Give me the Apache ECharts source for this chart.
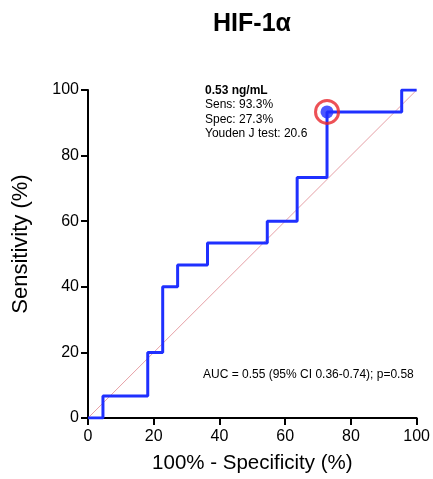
<!DOCTYPE html>
<html>
<head>
<meta charset="utf-8">
<script src="https://cdn.jsdelivr.net/npm/echarts@6/dist/echarts.min.js"></script>
<style>
  html, body { margin: 0; padding: 0; background: #fff; }
  #app { width: 433px; height: 479px; }
</style>
</head>
<body>
<div id="app"></div>
<script>
// ROC step curve: 100% - specificity (x) vs sensitivity (y)
const rocX = [0, 4.55, 4.55, 18.18, 18.18, 22.73, 22.73, 27.27, 27.27, 36.36, 36.36, 54.55, 54.55, 63.64, 63.64, 72.73, 72.73, 95.45, 95.45, 100];
const rocY = [0, 0, 6.67, 6.67, 20, 20, 40, 40, 46.67, 46.67, 53.33, 53.33, 60, 60, 73.33, 73.33, 93.33, 93.33, 100, 100];
const refLine = [[0, 0], [100, 100]];
const cutoff = [72.73, 93.33];
const axisTicks = [0, 20, 40, 60, 80, 100];
const noteLines = ['0.53 ng/mL', 'Sens: 93.3%', 'Spec: 27.3%', 'Youden J test: 20.6'];
const aucText = 'AUC = 0.55 (95% CI 0.36-0.74); p=0.58';

const font = 'Liberation Sans, Arial, Helvetica, sans-serif';
const chart = echarts.init(document.getElementById('app'));

const axisCommon = {
  type: 'value',
  min: axisTicks[0],
  max: axisTicks[axisTicks.length - 1],
  interval: 20,
  nameLocation: 'middle',
  axisLine: { show: true, onZero: false, lineStyle: { color: '#000', width: 2 } },
  axisTick: { show: true, inside: false, length: 7, lineStyle: { color: '#000', width: 2 } },
  axisLabel: { fontFamily: font, fontSize: 16, color: '#000' },
  splitLine: { show: false }
};

chart.setOption({
  animation: false,
  title: {
    text: 'HIF-1α',
    left: 247,
    textAlign: 'center',
    top: 7,
    textStyle: { fontFamily: font, fontSize: 25, fontWeight: 'bold', color: '#000' }
  },
  grid: { left: 88, right: 16, top: 90, bottom: 61 },
  xAxis: Object.assign({}, axisCommon, {
    name: '100% - Specificity (%)',
    nameGap: 35,
    nameTextStyle: { fontFamily: font, fontSize: 20.5, color: '#000' },
    axisLabel: Object.assign({}, axisCommon.axisLabel, { margin: 11 })
  }),
  yAxis: Object.assign({}, axisCommon, {
    name: 'Sensitivity (%)',
    nameGap: 56,
    nameTextStyle: { fontFamily: font, fontSize: 22, color: '#000', padding: [0, 0, 0, 20] },
    axisLabel: Object.assign({}, axisCommon.axisLabel, { margin: 9 })
  }),
  graphic: [
    {
      type: 'text', left: 205, top: 83,
      style: {
        text: noteLines.map((t, i) => i === 0 ? '{b|' + t + '}' : t).join('\n'),
        fontFamily: font, fontSize: 12, lineHeight: 14.5, fill: '#000',
        rich: { b: { fontWeight: 'bold', fontFamily: font, fontSize: 12, lineHeight: 14.5 } }
      }
    },
    {
      type: 'text', left: 203, top: 369,
      style: { text: aucText, fontFamily: font, fontSize: 12, fill: '#000' }
    }
  ],
  series: [
    {
      type: 'line',
      data: refLine,
      symbol: 'none',
      lineStyle: { color: '#e6a0a6', width: 1 },
      silent: true,
      z: 1
    },
    {
      type: 'line',
      data: rocX.map((x, i) => [x, rocY[i]]),
      symbol: 'none',
      lineStyle: { color: '#1f30ff', width: 3 },
      z: 2
    },
    {
      type: 'scatter',
      data: [cutoff],
      symbolSize: 13,
      itemStyle: { color: '#1f30ff' },
      z: 3
    },
    {
      type: 'scatter',
      data: [cutoff],
      symbolSize: 23,
      itemStyle: { color: 'rgba(0,0,0,0)', borderColor: '#e8262c', borderWidth: 3 },
      z: 4
    }
  ]
});
</script>
</body>
</html>
